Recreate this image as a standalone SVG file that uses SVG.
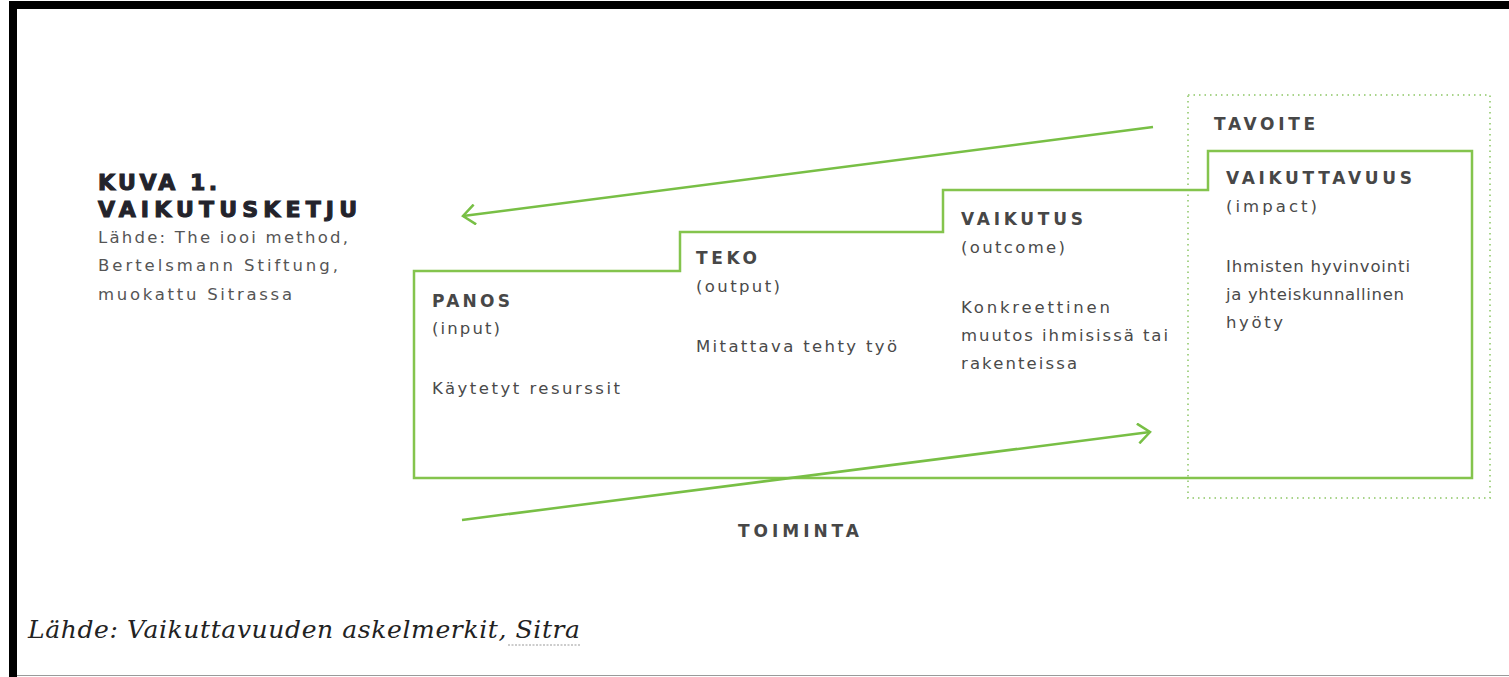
<svg xmlns="http://www.w3.org/2000/svg" width="1509" height="677" viewBox="0 0 1509 677">
<defs>
<style>
.h{font-family:"DejaVu Sans","Liberation Sans",sans-serif;font-weight:bold;font-size:17px;fill:#474747}
.b{font-family:"DejaVu Sans","Liberation Sans",sans-serif;font-size:16.5px;fill:#4a4a4a}
.src{font-family:"DejaVu Sans","Liberation Sans",sans-serif;font-size:16.5px;fill:#555}
.title{font-family:"DejaVu Sans","Liberation Sans",sans-serif;font-weight:bold;font-size:22px;fill:#23232b;stroke:#23232b;stroke-width:1.1}
.foot{font-family:"DejaVu Serif","Liberation Serif",serif;font-style:italic;font-size:25px;fill:#222}
.g{fill:none;stroke:#84c44d;stroke-width:2.5}
.arrow{fill:none;stroke:#78bf45;stroke-width:2.5}
</style>
<marker id="chev" viewBox="0 0 16 22" refX="13" refY="11" markerWidth="16" markerHeight="22" markerUnits="userSpaceOnUse" orient="auto">
<path d="M1,1 L13,11 L1,21" fill="none" stroke="#78bf45" stroke-width="2.5"/>
</marker>
</defs>
<rect width="1509" height="677" fill="#fff"/>
<g id="frame">
<rect x="9" y="1" width="1500" height="8" fill="#000"/>
<rect x="9" y="1" width="8" height="676" fill="#000"/>
<line x1="17" y1="675.5" x2="1509" y2="675.5" stroke="#9a9a9a" stroke-width="1"/>
</g>
<g id="title">
<text class="title" x="98" y="190" textLength="119" lengthAdjust="spacing">KUVA 1.</text>
<text class="title" x="98" y="217" textLength="259" lengthAdjust="spacing">VAIKUTUSKETJU</text>
<text class="src" x="98" y="243" textLength="250" lengthAdjust="spacing">Lähde: The iooi method,</text>
<text class="src" x="98" y="271" textLength="240" lengthAdjust="spacing">Bertelsmann Stiftung,</text>
<text class="src" x="98" y="300" textLength="194" lengthAdjust="spacing">muokattu Sitrassa</text>
</g>
<g id="tavoite-box">
<rect x="1188" y="95" width="302" height="403" fill="none" stroke="#a8d48a" stroke-width="2" stroke-dasharray="1.5 4"/>
<text class="h" x="1214" y="130" textLength="101" lengthAdjust="spacing">TAVOITE</text>
</g>
<g id="chain-outline">
<path class="g" d="M414,478 V271 H680 V232 H943 V190 H1208 V151 H1472 V478 Z"/>
</g>
<g id="panos">
<text class="h" x="432" y="307" textLength="78" lengthAdjust="spacing">PANOS</text>
<text class="b" x="432" y="334" textLength="68" lengthAdjust="spacing">(input)</text>
<text class="b" x="432" y="394" textLength="188" lengthAdjust="spacing">Käytetyt resurssit</text>
</g>
<g id="teko">
<text class="h" x="696" y="264" textLength="61" lengthAdjust="spacing">TEKO</text>
<text class="b" x="696" y="292" textLength="84" lengthAdjust="spacing">(output)</text>
<text class="b" x="696" y="352" textLength="201" lengthAdjust="spacing">Mitattava tehty työ</text>
</g>
<g id="vaikutus">
<text class="h" x="961" y="225" textLength="122" lengthAdjust="spacing">VAIKUTUS</text>
<text class="b" x="961" y="253" textLength="104" lengthAdjust="spacing">(outcome)</text>
<text class="b" x="961" y="313" textLength="149" lengthAdjust="spacing">Konkreettinen</text>
<text class="b" x="961" y="341" textLength="207" lengthAdjust="spacing">muutos ihmisissä tai</text>
<text class="b" x="961" y="369" textLength="116" lengthAdjust="spacing">rakenteissa</text>
</g>
<g id="vaikuttavuus">
<text class="h" x="1226" y="184" textLength="186" lengthAdjust="spacing">VAIKUTTAVUUS</text>
<text class="b" x="1226" y="212" textLength="91" lengthAdjust="spacing">(impact)</text>
<text class="b" x="1226" y="272" textLength="184" lengthAdjust="spacing">Ihmisten hyvinvointi</text>
<text class="b" x="1226" y="300" textLength="178" lengthAdjust="spacing">ja yhteiskunnallinen</text>
<text class="b" x="1226" y="328" textLength="57" lengthAdjust="spacing">hyöty</text>
</g>
<g id="connectors">
<line class="arrow" x1="1153" y1="127" x2="463" y2="216" marker-end="url(#chev)"/>
<line class="arrow" x1="462" y1="520" x2="1150" y2="432" marker-end="url(#chev)"/>
</g>
<g id="toiminta">
<text class="h" x="738" y="537" textLength="121" lengthAdjust="spacing">TOIMINTA</text>
</g>
<g id="footnote">
<text class="foot" x="28" y="638" textLength="552" lengthAdjust="spacing">Lähde: Vaikuttavuuden askelmerkit, Sitra</text>
<line x1="508" y1="645" x2="580" y2="645" stroke="#999" stroke-width="1" stroke-dasharray="2 1.5"/>
</g>
</svg>
